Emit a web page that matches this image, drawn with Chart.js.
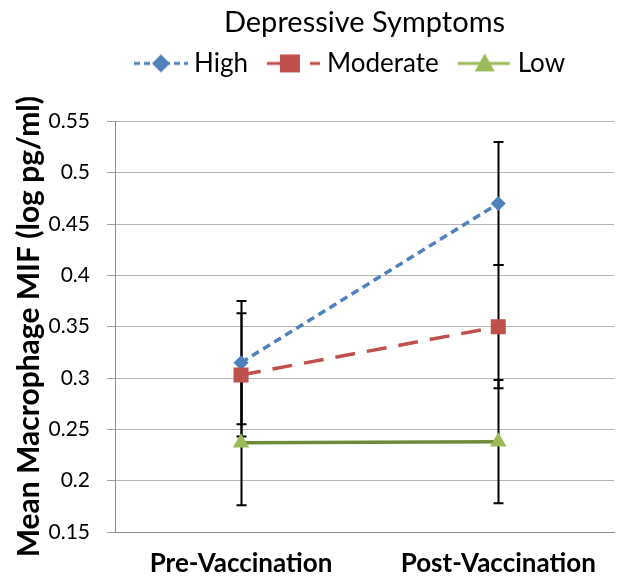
<!DOCTYPE html>
<html><head><meta charset="utf-8">
<script src="https://cdn.jsdelivr.net/npm/chart.js@4/dist/chart.umd.min.js"></script>
<style>html,body{margin:0;padding:0;background:#fff}#wrap{width:626px;height:578px}</style>
</head><body><div id="wrap"><canvas id="c" width="626" height="578"></canvas></div>
<script>
const categories = ['Pre-Vaccination', 'Post-Vaccination'];
const seriesNames = ['High', 'Moderate', 'Low'];
const highValues = [0.315, 0.470];
const moderateValues = [0.303, 0.350];
const lowValues = [0.237, 0.238];
const highErrors = [0.060, 0.060];
const moderateErrors = [0.060, 0.060];
const lowErrors = [0.061, 0.060];
const yTicks = [0.15, 0.2, 0.25, 0.3, 0.35, 0.4, 0.45, 0.5, 0.55];
const chartTitle = 'Depressive Symptoms';
const yAxisTitle = 'Mean Macrophage MIF (log pg/ml)';

const FONT = 'Lato, "Open Sans", sans-serif';
const COLORS = ['#4F81BD', '#C0504D', '#9BBB59'];
const LOW_LINE = '#6f8c3a';

const seriesValues = [highValues, moderateValues, lowValues];
const seriesErrors = [highErrors, moderateErrors, lowErrors];

function legendImage(kind) {
  const c = document.createElement('canvas');
  c.width = 70; c.height = 24;
  const g = c.getContext('2d');
  const x0 = 16, x1 = 70, cx = (x0 + x1) / 2, cy = 12;
  g.lineWidth = 3;
  if (kind === 0) {
    g.strokeStyle = COLORS[0]; g.setLineDash([6, 4]); g.lineDashOffset = 0;
    g.beginPath(); g.moveTo(x0, cy); g.lineTo(x1, cy); g.stroke();
    g.setLineDash([]); g.fillStyle = COLORS[0];
    g.beginPath(); g.moveTo(cx - 9, cy); g.lineTo(cx, cy - 9); g.lineTo(cx + 9, cy); g.lineTo(cx, cy + 9); g.closePath(); g.fill();
  } else if (kind === 1) {
    const sx = cx - 4;
    g.strokeStyle = COLORS[1];
    g.beginPath(); g.moveTo(x0, cy); g.lineTo(sx, cy); g.stroke();
    g.beginPath(); g.moveTo(sx + 20, cy); g.lineTo(x1 - 1, cy); g.stroke();
    g.fillStyle = COLORS[1]; g.fillRect(sx - 10, cy - 9, 20, 18);
  } else {
    g.strokeStyle = COLORS[2];
    g.beginPath(); g.moveTo(x0, cy); g.lineTo(x1 - 2, cy); g.stroke();
    g.fillStyle = COLORS[2];
    g.beginPath(); g.moveTo(cx, cy - 10); g.lineTo(cx + 10, cy + 8); g.lineTo(cx - 10, cy + 8); g.closePath(); g.fill();
  }
  return c;
}
const legendImages = [0, 1, 2].map(legendImage);

const legendGap = {
  id: 'legendGap',
  beforeInit(chart) {
    Chart.layouts.addBox(chart, {
      position: 'top', weight: 0, fullSize: false, options: {},
      isHorizontal() { return true; },
      update(w) { this.width = w; this.height = 35; },
      draw() {}
    });
  }
};

const errorBars = {
  id: 'errorBars',
  beforeDatasetsDraw(chart) {
    const ctx = chart.ctx, xs = chart.scales.x, ys = chart.scales.y;
    ctx.save();
    ctx.strokeStyle = '#000';
    ctx.lineWidth = 2;
    seriesValues.forEach((vals, s) => {
      vals.forEach((v, i) => {
        const e = seriesErrors[s][i];
        const px = Math.round(xs.getPixelForValue(i)) + 0.5;
        const top = ys.getPixelForValue(v + e);
        const bot = ys.getPixelForValue(v - e);
        ctx.beginPath();
        ctx.moveTo(px, top); ctx.lineTo(px, bot);
        ctx.moveTo(px - 5, top); ctx.lineTo(px + 5, top);
        ctx.moveTo(px - 5, bot); ctx.lineTo(px + 5, bot);
        ctx.stroke();
      });
    });
    ctx.restore();
  }
};

const styles = [
  { dash: [8, 5], color: COLORS[0], line: COLORS[0], point: 'rectRot', r: 7.5 },
  { dash: [20, 12], color: COLORS[1], line: COLORS[1], point: 'rect', r: 10.6 },
  { dash: [], color: COLORS[2], line: LOW_LINE, point: 'triangle', r: 9.5 }
];

const datasets = seriesNames.map((name, s) => ({
  label: name,
  data: seriesValues[s].map((v, i) => ({ x: i, y: v })),
  borderColor: styles[s].line,
  backgroundColor: styles[s].color,
  borderWidth: 3.5,
  borderDash: styles[s].dash,
  pointStyle: styles[s].point,
  pointRadius: styles[s].r,
  pointBackgroundColor: styles[s].color,
  pointBorderColor: styles[s].color,
  pointBorderWidth: 0,
  tension: 0,
  fill: false,
  order: 3 - s
}));

new Chart(document.getElementById('c'), {
  type: 'line',
  data: { datasets },
  plugins: [legendGap, errorBars],
  options: {
    responsive: false,
    animation: false,
    layout: { padding: { left: 0, right: 12, top: 0, bottom: 0 } },
    plugins: {
      tooltip: { enabled: false },
      title: {
        display: true, text: chartTitle, fullSize: false, color: '#000',
        font: { family: FONT, size: 29, weight: 'normal' },
        padding: { top: 5.6, bottom: 0 }
      },
      legend: {
        display: true, position: 'top', fullSize: false, align: 'start',
        labels: {
          usePointStyle: true, pointStyleWidth: 56, padding: 10,
          color: '#000', font: { family: FONT, size: 26 },
          generateLabels() {
            return seriesNames.map((n, i) => ({
              text: n, pointStyle: legendImages[i], fillStyle: 'transparent',
              strokeStyle: 'transparent', lineWidth: 0, hidden: false, datasetIndex: i, fontColor: '#000'
            }));
          }
        }
      }
    },
    scales: {
      x: {
        type: 'linear', min: -0.49, max: 1.45,
        grid: { display: false, drawTicks: false },
        border: { display: true, color: '#8c8c8c', width: 1 },
        afterBuildTicks(scale) { scale.ticks = categories.map((c, i) => ({ value: i })); },
        afterFit(scale) { scale.height = 46; },
        ticks: {
          autoSkip: false, maxRotation: 0, padding: 16, color: '#000',
          font: { family: FONT, size: 26, weight: 'bold' },
          callback(v) { return categories[v]; }
        }
      },
      y: {
        min: 0.15, max: 0.55,
        afterBuildTicks(scale) { scale.ticks = yTicks.map(v => ({ value: v })); },
        afterFit(scale) { scale.width = 115; },
        grid: { color: '#b4b4b4', tickLength: 8, tickColor: '#a0a0a0' },
        border: { display: true, color: '#8c8c8c', width: 1 },
        ticks: {
          padding: 17, color: '#000',
          font: { family: FONT, size: 21 },
          callback(v) { return String(+Number(v).toFixed(2)); }
        },
        title: {
          display: true, text: yAxisTitle, color: '#000',
          font: { family: FONT, size: 30, weight: 'bold' },
          padding: { top: 11, bottom: 0 }
        }
      }
    }
  }
});
</script>
</body></html>
